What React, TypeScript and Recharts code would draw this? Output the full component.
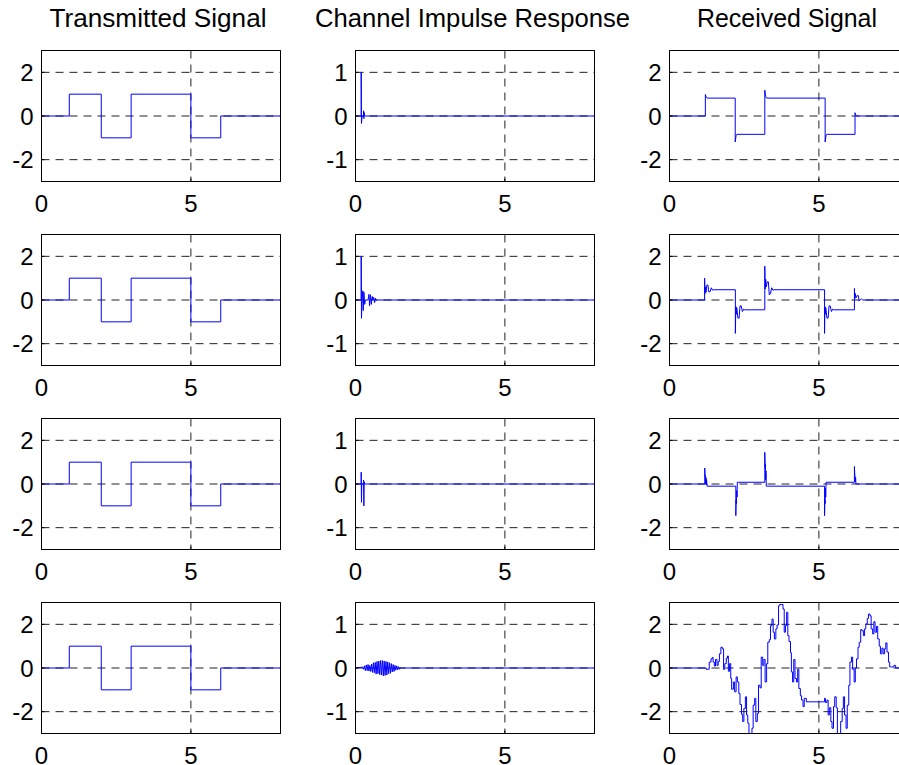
import { LineChart, Line, XAxis, YAxis, CartesianGrid, ReferenceArea } from 'recharts'

const FONT = '"Liberation Sans", Arial, Helvetica, sans-serif'

const titles = ['Transmitted Signal', 'Channel Impulse Response', 'Received Signal']
const xTicks = [0, 5]
const signalTicks = [-2, 0, 2]
const channelTicks = [-1, 0, 1]

// transmitted bits (same in every row)
const txTime = [0, 0.93, 0.93, 2, 2, 3, 3, 5, 5, 6, 6, 8]
const txValue = [0, 0, 1, 1, -1, -1, 1, 1, -1, -1, 0, 0]

// channel impulse responses
const h1Time = [0, 0.19, 0.19, 0.2, 0.22, 0.27, 0.27, 0.28, 0.29, 0.3, 8]
const h1Value = [0, 0, 1, -0.17, 0, 0, 0.12, -0.06, 0.08, 0, 0]

const h2Time = [0, 0.19, 0.19, 0.2, 0.22, 0.245, 0.26, 0.28, 0.31, 0.33, 0.42, 0.45, 0.47, 0.5, 0.53, 0.56, 0.58, 0.61, 0.64, 0.67, 0.69, 8]
const h2Value = [0, 0, 1, -0.42, 0, 0.21, -0.24, 0.18, -0.1, 0, 0, 0.13, -0.13, 0.12, -0.1, 0.08, 0, 0.06, -0.06, 0.04, 0, 0]

const h3Time = [0, 0.19, 0.19, 0.2, 0.21, 0.27, 0.27, 0.28, 0.29, 0.3, 8]
const h3Value = [0, 0, 0.27, -0.42, 0, 0, 0.09, -0.5, 0.05, 0, 0]

const h4Time = [0, 0.24, 0.27, 0.3, 0.33, 0.36, 0.39, 0.42, 0.45, 0.48, 0.51, 0.54, 0.57, 0.6, 0.63, 0.66, 0.69, 0.72, 0.75, 0.78, 0.81, 0.84, 0.87, 0.9, 0.93, 0.96, 0.99, 1.02, 1.05, 1.08, 1.11, 1.14, 1.17, 1.2, 1.23, 1.26, 1.29, 1.32, 1.35, 1.38, 1.41, 1.44, 1.47, 1.5, 1.53, 1.56, 8]
const h4Value = [0, 0.02, -0.03, 0.05, -0.06, 0.07, -0.06, 0.08, -0.07, 0.06, -0.08, 0.09, -0.1, 0.12, -0.11, 0.13, -0.14, 0.15, -0.13, 0.16, -0.15, 0.17, -0.16, 0.17, -0.18, 0.16, -0.17, 0.15, -0.16, 0.14, -0.13, 0.12, -0.12, 0.1, -0.09, 0.08, -0.08, 0.06, -0.05, 0.05, -0.04, 0.03, -0.03, 0.02, -0.01, 0, 0]

// received signals
const r1Time = [0, 1.2, 1.2, 1.23, 1.26, 2.2, 2.2, 2.23, 2.26, 3.19, 3.19, 3.22, 3.25, 5.21, 5.21, 5.24, 5.27, 6.21, 6.21, 6.24, 6.27, 8]
const r1Value = [0, 0, 0.98, 0.86, 0.82, 0.82, -1.19, -0.88, -0.84, -0.84, 1.18, 0.88, 0.82, 0.82, -1.19, -0.88, -0.84, -0.84, 0.15, 0.03, 0, 0]

const r2Time = [0, 1.175, 1.175, 1.19, 1.21, 1.22, 1.25, 1.29, 1.31, 1.36, 1.4, 1.44, 1.48, 2.205, 2.205, 2.22, 2.24, 2.25, 2.29, 2.33, 2.36, 2.4, 2.44, 2.48, 2.52, 3.19, 3.19, 3.2, 3.22, 3.24, 3.27, 3.31, 3.34, 3.38, 3.42, 3.46, 3.5, 5.19, 5.19, 5.2, 5.22, 5.23, 5.27, 5.31, 5.34, 5.38, 5.42, 5.46, 5.5, 6.19, 6.19, 6.2, 6.22, 6.24, 6.28, 6.32, 6.35, 6.39, 6.43, 6.47, 8]
const r2Value = [0, 0, 1.0, 0.3, 0.6, 0.35, 0.68, 0.68, 0.38, 0.38, 0.56, 0.45, 0.47, 0.47, -1.53, -0.3, -0.65, -0.35, -0.83, -0.83, -0.27, -0.27, -0.53, -0.42, -0.45, -0.45, 1.55, 0.5, 0.95, 0.6, 0.83, 0.83, 0.23, 0.3, 0.56, 0.45, 0.47, 0.47, -1.53, -0.3, -0.65, -0.35, -0.83, -0.83, -0.27, -0.27, -0.53, -0.42, -0.45, -0.45, 0.53, 0.05, 0.3, 0.1, 0.2, 0.2, -0.05, 0.02, 0.05, 0, 0]

const r3Time = [0, 1.18, 1.18, 1.19, 1.2, 1.21, 1.22, 1.23, 1.24, 1.26, 2.22, 2.22, 2.23, 2.24, 2.25, 2.26, 2.27, 3.19, 3.19, 3.2, 3.21, 3.22, 3.23, 3.24, 3.27, 5.19, 5.19, 5.2, 5.21, 5.22, 5.23, 5.24, 5.27, 6.19, 6.19, 6.2, 6.21, 6.22, 6.23, 6.24, 6.27, 8]
const r3Value = [0, 0, 0.73, 0.35, 0.4, 0.0, 0.3, -0.05, 0.2, -0.1, -0.1, -1.45, -0.75, -0.9, -0.3, -0.6, 0.08, 0.08, 1.45, 0.75, 0.92, 0.2, 0.6, -0.1, -0.1, -0.1, -1.45, -0.75, -0.9, -0.2, -0.6, 0.08, 0.08, 0.08, 0.8, 0.47, 0.32, 0.1, 0.3, 0, 0, 0]

const r4Time = [0, 1.175, 1.23, 1.31, 1.33, 1.39, 1.43, 1.46, 1.5, 1.54, 1.59, 1.63, 1.67, 1.72, 1.77, 1.81, 1.85, 1.9, 1.94, 1.97, 2.01, 2.05, 2.08, 2.14, 2.18, 2.23, 2.27, 2.32, 2.36, 2.41, 2.45, 2.49, 2.54, 2.58, 2.62, 2.66, 2.72, 2.76, 2.8, 2.85, 2.89, 2.94, 2.98, 3.03, 3.07, 3.12, 3.16, 3.2, 3.25, 3.29, 3.34, 3.38, 3.43, 3.47, 3.51, 3.56, 3.6, 3.65, 3.69, 3.76, 3.8, 3.84, 3.88, 3.92, 3.96, 4.0, 4.05, 4.08, 4.12, 4.16, 4.2, 4.25, 4.29, 4.33, 4.38, 4.42, 4.47, 4.51, 4.58, 5.13, 5.19, 5.22, 5.27, 5.31, 5.35, 5.4, 5.44, 5.49, 5.53, 5.58, 5.62, 5.69, 5.73, 5.78, 5.82, 5.86, 5.91, 5.95, 6.0, 6.04, 6.09, 6.13, 6.18, 6.22, 6.26, 6.31, 6.35, 6.4, 6.44, 6.49, 6.53, 6.57, 6.62, 6.66, 6.71, 6.75, 6.8, 6.84, 6.88, 6.93, 6.97, 7.02, 7.06, 7.11, 7.15, 7.2, 7.24, 7.28, 7.33, 7.37, 7.44, 7.51, 7.57, 8]
const r4Value = [0, 0, -0.06, -0.06, 0.27, 0.42, 0.48, 0.27, 0.09, 0.39, 0.12, 0.3, 0.65, 0.95, 0.88, -0.06, 0.2, 0.45, 0.55, -0.15, 0.2, -0.48, -0.97, -0.64, -1.09, -0.41, -0.64, -1.17, -1.67, -2.12, -2.45, -1.85, -1.32, -2.15, -2.53, -3.06, -3.06, -2.76, -1.7, -1.39, -2.45, -2.08, -0.79, -0.91, 0.5, 0.12, 0.39, -0.64, 0.2, 1.18, 1.3, 1.94, 2.24, 1.64, 1.33, 1.79, 1.97, 2.85, 2.91, 2.91, 2.7, 1.64, 1.94, 2.55, 1.48, 1.21, 0.7, -0.18, -0.64, 0.39, -0.48, -0.64, -0.06, -0.94, -1.27, -1.47, -1.77, -1.39, -1.55, -1.55, -1.39, -1.58, -1.47, -2.15, -1.82, -2.45, -2.76, -1.77, -1.32, -1.82, -3.06, -3.06, -2.45, -1.85, -1.32, -2.15, -2.76, -1.7, -0.79, 0.27, 0.5, -0.06, -0.64, 0, 0.42, 0.95, 1.18, 1.76, 1.71, 1.48, 1.79, 2.02, 2.27, 2.47, 2.39, 1.79, 1.56, 2.12, 1.64, 1.91, 1.33, 1.0, 0.65, 0.91, 0.65, 0.88, 1.15, 0.73, 0.27, 0.05, 0.05, 0.12, 0, 0]

// layout of the subplot grid
const colLeft = [41, 355, 669]
const rowTop = [50, 234, 418, 602]
const titleCenter = [158, 472.5, 787]
const titleWidth = [217, 315, 180]
const plotW = 239
const plotH = 131

const toPoints = (t: number[], v: number[]) => t.map((x, i) => ({ t: x, v: v[i] }))

const tickStyle = { fill: '#000', fontSize: 24, fontFamily: FONT }

interface PanelProps {
  left: number
  top: number
  data: { t: number; v: number }[]
  ticks: number[]
  limit: number
  step?: boolean
}

function Panel({ left, top, data, ticks, limit, step }: PanelProps) {
  return (
    <div style={{ position: 'absolute', left: left - 50, top: top - 10 }}>
      <LineChart
        width={plotW + 60.5}
        height={plotH + 55.5}
        data={data}
        margin={{ top: 10.5, right: 10, bottom: 0, left: 0.5 }}
      >
        <CartesianGrid stroke="#222" strokeDasharray="8 6" />
        <XAxis
          dataKey="t"
          type="number"
          domain={[0, 8]}
          ticks={xTicks}
          interval={0}
          allowDataOverflow
          height={45}
          tickSize={-3}
          tickMargin={16}
          axisLine={{ stroke: '#000' }}
          tickLine={{ stroke: '#000' }}
          tick={tickStyle}
        />
        <YAxis
          type="number"
          domain={[-limit, limit]}
          ticks={ticks}
          interval={0}
          allowDataOverflow
          width={50}
          tickSize={-3}
          tickMargin={11}
          axisLine={{ stroke: '#000' }}
          tickLine={{ stroke: '#000' }}
          tick={tickStyle}
        />
        <ReferenceArea x1={0} x2={8} y1={-limit} y2={limit} fill="none" fillOpacity={0} stroke="#000" />
        <Line
          dataKey="v"
          type={step ? 'stepAfter' : 'linear'}
          stroke="#0000ff"
          strokeWidth={1}
          dot={false}
          isAnimationActive={false}
        />
      </LineChart>
    </div>
  )
}

export default function App() {
  const tx = toPoints(txTime, txValue)
  const rows = [
    { h: toPoints(h1Time, h1Value), r: toPoints(r1Time, r1Value) },
    { h: toPoints(h2Time, h2Value), r: toPoints(r2Time, r2Value) },
    { h: toPoints(h3Time, h3Value), r: toPoints(r3Time, r3Value) },
    { h: toPoints(h4Time, h4Value), r: toPoints(r4Time, r4Value), step: true },
  ]

  return (
    <div
      style={{
        position: 'absolute',
        left: 0,
        top: 0,
        width: 899,
        height: 765,
        overflow: 'hidden',
        background: '#fff',
        fontFamily: FONT,
      }}
    >
      <svg width={899} height={40} style={{ position: 'absolute', left: 0, top: 0 }}>
        {titles.map((title, i) => (
          <text
            key={title}
            x={titleCenter[i]}
            y={26.5}
            textAnchor="middle"
            textLength={titleWidth[i]}
            lengthAdjust="spacingAndGlyphs"
            fontSize={25}
            fontFamily={FONT}
            fill="#000"
          >
            {title}
          </text>
        ))}
      </svg>
      {rows.map((row, r) => (
        <div key={r}>
          <Panel left={colLeft[0]} top={rowTop[r]} data={tx} ticks={signalTicks} limit={3} />
          <Panel left={colLeft[1]} top={rowTop[r]} data={row.h} ticks={channelTicks} limit={1.5} />
          <Panel left={colLeft[2]} top={rowTop[r]} data={row.r} ticks={signalTicks} limit={3} step={row.step} />
        </div>
      ))}
    </div>
  )
}
